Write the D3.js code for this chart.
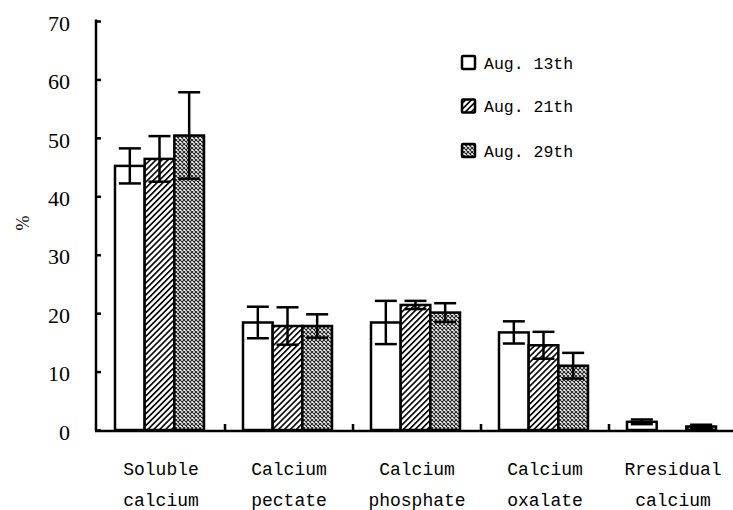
<!DOCTYPE html>
<html><head><meta charset="utf-8">
<script src="https://cdn.jsdelivr.net/npm/d3@7"></script>
<style>body{margin:0;background:#fff}svg{display:block}</style>
</head><body>
<script>
const categories = [["Soluble","calcium"],["Calcium","pectate"],["Calcium","phosphate"],["Calcium","oxalate"],["Rresidual","calcium"]];
const seriesNames = ["Aug. 13th","Aug. 21th","Aug. 29th"];
const aug13 = [45.2, 18.4, 18.4, 16.7, 1.4];
const aug21 = [46.4, 17.8, 21.4, 14.5, 0];
const aug29 = [50.4, 17.8, 20.1, 11.0, 0.6];
const err13 = [3.0, 2.7, 3.7, 1.9, 0.4];
const err21 = [3.9, 3.2, 0.7, 2.3, 0];
const err29 = [7.4, 2.0, 1.6, 2.2, 0.3];
const yTicks = [0,10,20,30,40,50,60,70];

const W = 733, H = 510;
const svg = d3.select("body").append("svg").attr("width", W).attr("height", H);
const defs = svg.append("defs");
const hatch = defs.append("pattern").attr("id","hatch").attr("patternUnits","userSpaceOnUse")
  .attr("width",4.2).attr("height",4.2).attr("patternTransform","rotate(45)");
hatch.append("rect").attr("width",4.2).attr("height",4.2).attr("fill","#fff");
hatch.append("rect").attr("x",0).attr("y",0).attr("width",1.6).attr("height",4.2).attr("fill","#000");
const cross = defs.append("pattern").attr("id","cross").attr("patternUnits","userSpaceOnUse")
  .attr("width",4).attr("height",4);
cross.append("rect").attr("width",4).attr("height",4).attr("fill","#fff");
cross.append("path").attr("d","M0,0L4,4M4,0L0,4").attr("stroke","#222").attr("stroke-width",1.1);
const fills = ["#fff","url(#hatch)","url(#cross)"];

const catIdx = d3.range(categories.length);
const x = d3.scaleBand().domain(catIdx).range([97, 737]).padding(0);
const xs = d3.scaleBand().domain(d3.range(3)).range([18, 107]).padding(0);
const y = d3.scaleLinear().domain([0,70]).range([430, 21]);

// y axis
const yAxis = d3.axisLeft(y).tickValues(yTicks).tickSizeInner(-5).tickSizeOuter(0).tickPadding(26);
const gy = svg.append("g").attr("transform","translate(96,0)").call(yAxis);
gy.select(".domain").attr("stroke","#000").attr("stroke-width",2.5).attr("d","M0,19.5V431");
gy.selectAll(".tick line").attr("stroke","#000").attr("stroke-width",2.5);
gy.selectAll(".tick text").attr("font-family","Liberation Serif").attr("font-size",22).attr("fill","#000").attr("dy","0.42em");

svg.append("text").attr("transform","translate(29,223) rotate(-90)").attr("text-anchor","middle")
  .attr("font-family","Liberation Serif").attr("font-size",18).text("%");

const series = [aug13, aug21, aug29];
const errs = [err13, err21, err29];

// bars
series.forEach((vals, s) => {
  svg.append("g").selectAll("rect").data(vals).join("rect")
    .attr("x", (d,i) => x(i) + xs(s))
    .attr("y", d => y(d))
    .attr("width", xs.bandwidth())
    .attr("height", d => y(0) - y(d))
    .attr("fill", fills[s]).attr("stroke","#000").attr("stroke-width",2.5)
    .style("display", d => d > 0 ? null : "none");
});
// error bars
series.forEach((vals, s) => {
  const g = svg.append("g").attr("stroke","#000").attr("stroke-width",2.5);
  vals.forEach((v,i) => {
    const e = errs[s][i];
    if (!(v > 0) || !(e > 0)) return;
    const cx = x(i) + xs(s) + xs.bandwidth()/2;
    g.append("line").attr("x1",cx).attr("x2",cx).attr("y1",y(v+e)).attr("y2",y(v-e));
    g.append("line").attr("x1",cx-11).attr("x2",cx+11).attr("y1",y(v+e)).attr("y2",y(v+e));
    g.append("line").attr("x1",cx-11).attr("x2",cx+11).attr("y1",y(v-e)).attr("y2",y(v-e));
  });
});

// x axis
svg.append("line").attr("x1",95).attr("x2",W).attr("y1",431).attr("y2",431).attr("stroke","#000").attr("stroke-width",2.5);
svg.append("g").selectAll("line").data(catIdx.slice(1)).join("line")
  .attr("x1", i => x(i)).attr("x2", i => x(i)).attr("y1",431).attr("y2",424)
  .attr("stroke","#000").attr("stroke-width",2.5);

// category labels
const cl = svg.append("g").attr("font-family","Liberation Mono").attr("font-size",18).attr("text-anchor","middle");
catIdx.forEach(i => {
  const cx = x(i) + x.bandwidth()/2;
  cl.append("text").attr("x", cx).attr("y", 475).text(categories[i][0]);
  cl.append("text").attr("x", cx).attr("y", 506).text(categories[i][1]);
});

// legend
const legY = [62.5, 106, 150.5];
const lg = svg.append("g");
seriesNames.forEach((n, s) => {
  lg.append("rect").attr("x",462).attr("y",legY[s]-6.5).attr("width",13).attr("height",13)
    .attr("fill",fills[s]).attr("stroke","#000").attr("stroke-width",2.5).attr("rx",1);
  lg.append("text").attr("x",484).attr("y",legY[s]+6).attr("font-family","Liberation Mono")
    .attr("font-size",16.5).text(n);
});
</script>
</body></html>
